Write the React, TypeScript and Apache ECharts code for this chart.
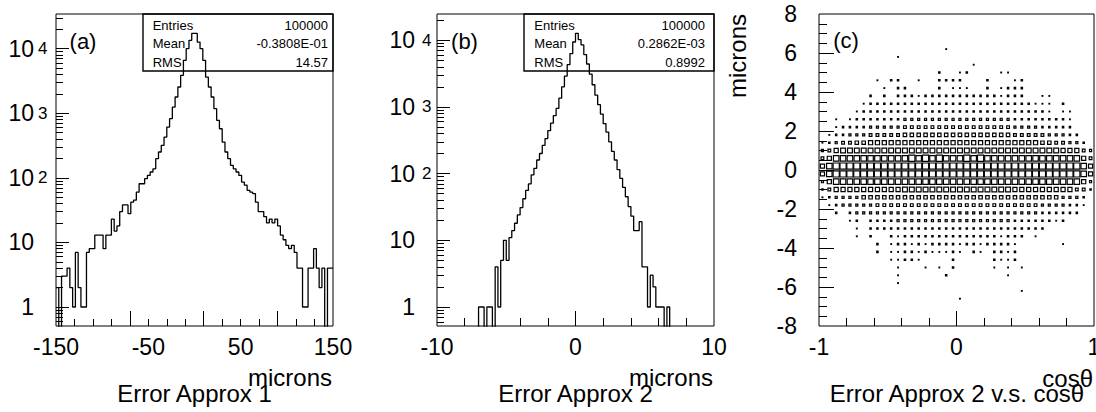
import React, { useEffect, useRef } from "react";
import * as echarts from "echarts";

// ---------- data ----------
// Panel (a): Error Approx 1, 100 bins from -150 to 150 (microns)
const binsA = [
  2, 0, 3, 3, 4, 2, 1, 7, 2, 1,
  1, 7, 8, 8, 13, 13, 13, 8, 13, 13,
  23, 15, 18, 30, 38, 38, 28, 42, 45, 60,
  81, 81, 97, 109, 123, 138, 198, 251, 318, 428,
  611, 822, 1247, 1782, 2547, 3860, 6590, 9970, 13440, 17200,
  17200, 12650, 9970, 6590, 3630, 2547, 1782, 1175, 776, 575,
  358, 251, 198, 156, 138, 123, 109, 86, 77, 64,
  60, 57, 42, 30, 30, 25, 20, 23, 20, 23,
  18, 13, 11, 9, 8, 9, 7, 4, 4, 1,
  1, 4, 4, 8, 4, 2, 4, 0, 4, 4,
];
// Panel (b): Error Approx 2, 100 bins from -10 to 10 (microns)
const binsB = [
  0, 0, 0, 0, 0, 0, 0, 0, 0, 0,
  0, 0, 0, 0, 0, 1, 1, 0, 1, 1,
  0, 4, 1, 5, 10, 5, 11, 14, 18, 24,
  31, 42, 56, 70, 96, 120, 160, 200, 265, 335,
  440, 570, 740, 950, 1350, 2000, 2900, 4300, 6300, 9400,
  12700, 10200, 8500, 6100, 4400, 3100, 2150, 1500, 1080, 780,
  560, 420, 300, 215, 160, 115, 85, 62, 45, 32,
  23, 14, 14, 19, 4, 4, 1, 3, 2, 1,
  1, 1, 0, 1, 0, 0, 0, 0, 0, 0,
  0, 0, 0, 0, 0, 0, 0, 0, 0, 0,
];
// Panel (c): box sizes (tenths of a cell) of the 40 x 40 2-D histogram,
// cos(theta) from -1 to 1 across, microns from 8 (top row) down to -8.
const cellRows = [
  "..........|..........|..........|..........",
  "..........|..........|..........|..........",
  "..........|..........|..........|..........",
  "..........|..........|..........|..........",
  "..........|........1.|..........|..........",
  "..........|.1........|..........|..........",
  "..........|..........|..1.......|..........",
  "..........|.......2..|12....11..|..........",
  "........1.|22..1..222|2...2...12|..........",
  ".........1|.22....2.1|11..2.1222|..........",
  ".......2.2|.222122222|2222221222|..11......",
  "......1222|2222222222|2222222222|2111.2....",
  ".....12222|2222222222|2222222222|2221.11...",
  "..1.122222|2233333333|3333333322|2222221...",
  "..12222333|3344444444|4444444433|3322222...",
  ".122333444|4455555555|5555555544|44433322..",
  "1234455666|6666666666|6666666666|665544332.",
  "3467777777|7777777777|7777777777|7777766643",
  "4688888888|8889898988|8989888888|8888888864",
  "6899999999|9999999999|9999999999|9999999986",
  "6899999999|9999999999|9999999999|9999999986",
  "3688888888|8888888888|8888888888|8888888863",
  "2466666666|6677777777|7777777766|6666666442",
  "1233335555|5555555555|5555555555|555553332.",
  ".123333344|4444444444|4444444444|443333221.",
  "..2.233333|3333333333|3333333333|33222222..",
  "....12.222|2333333333|3333333322|222212....",
  ".....1.222|2222222222|2222222222|222.......",
  ".....1.2..|2122222222|2222221222|.1........",
  "........2.|1221212222|122122221.|.....1....",
  "........2.|1122121112|1.21.2212.|..........",
  "..........|11221....2|.....2112.|..........",
  "..........|.1...1.1.2|.....1.1.1|..........",
  "..........|.1......2.|.......1..|..........",
  "..........|.1........|..........|..........",
  "..........|..........|.........1|..........",
  "..........|..........|1.........|..........",
  "..........|..........|..........|..........",
  "..........|..........|..........|..........",
  "..........|..........|..........|..........",
];

const statNames = ["Entries", "Mean", "RMS"];
const statValuesA = ["100000", "-0.3808E-01", "14.57"];
const statValuesB = ["100000", "0.2862E-03", "0.8992"];

const xLabelsA = [-150, -50, 50, 150];
const xTicksA = [-130, -110, -90, -70, -50, -30, -10, 10, 30, 50, 70, 90, 110, 130];
const xLongTicksA = [-70, 10, 90];
const xLabelsB = [-10, 0, 10];
const xTicksB = [-8, -6, -4, -2, 2, 4, 6, 8];
const xLongTicksB = [0];
const xLabelsC = [-1, 0, 1];
const xTicksC = [-0.8, -0.6, -0.4, -0.2, 0.2, 0.4, 0.6, 0.8];
const xLongTicksC = [0];
const yLabelsC = [-8, -6, -4, -2, 0, 2, 4, 6, 8];
const yLongTicksC = [-6, -4, -2, 0, 2, 4, 6];
const yShortTicksC = [-7.5, -7, -6.5, -5.5, -5, -4.5, -3.5, -3, -2.5, -1.5, -1, -0.5,
  0.5, 1, 1.5, 2.5, 3, 3.5, 4.5, 5, 5.5, 6.5, 7, 7.5];
const decades = [0, 1, 2, 3, 4];
const exponents = [2, 3, 4];
const minorMultipliers = [2, 3, 4, 5, 6, 7, 8, 9];

// ---------- helpers ----------
const FONT = '"Liberation Sans", Arial, Helvetica, sans-serif';
const LABEL_SIZE = 23;
const TITLE_SIZE = 24;

const logv = (v: number) => (v > 0 ? Math.log10(v) : -5);

function histData(bins: number[], min: number, width: number) {
  const d: number[][] = bins.map((v, i) => [min + i * width, logv(v)]);
  d.push([min + bins.length * width, logv(bins[bins.length - 1])]);
  return d;
}

function minorLogTicks(lo: number, hi: number) {
  const out: number[] = [];
  for (let e = -1; e <= 5; e++) {
    for (const m of minorMultipliers) {
      const l = e + Math.log10(m);
      if (l > lo && l < hi) out.push(l);
    }
  }
  return out;
}

function cellData() {
  const out: number[][] = [];
  const dx = 2 / 40;
  const dy = 16 / 40;
  cellRows.forEach((row, r) => {
    const s = row.replace(/\|/g, "");
    const j = cellRows.length - 1 - r;
    for (let i = 0; i < s.length; i++) {
      const ch = s[i];
      if (ch === ".") continue;
      out.push([-1 + (i + 0.5) * dx, -8 + (j + 0.5) * dy, Number(ch)]);
    }
  });
  return out;
}

function tickAxis(
  dim: "x" | "y",
  gridIndex: number,
  min: number,
  max: number,
  ticks: number[],
  len: number,
  label?: any
) {
  return {
    type: "value",
    gridIndex,
    min,
    max,
    position: dim === "x" ? "bottom" : "left",
    offset: 0,
    axisLine: { show: false, onZero: false },
    splitLine: { show: false },
    axisTick: {
      show: true,
      inside: true,
      length: len,
      customValues: ticks,
      lineStyle: { color: "#000", width: 1 },
    },
    axisLabel: label
      ? { show: true, color: "#000", fontFamily: FONT, fontSize: LABEL_SIZE, ...label }
      : { show: false },
  };
}

function text(x: number, y: number, t: string, size: number, align: string, extra: any = {}) {
  return {
    type: "text",
    x,
    y,
    z: 50,
    silent: true,
    ...extra,
    style: {
      text: t,
      fill: "#000",
      font: `${size}px ${FONT}`,
      align,
      textAlign: align,
      verticalAlign: "middle",
      textVerticalAlign: "middle",
    },
  };
}

function statsBox(x: number, labelX: number, valueX: number, values: string[]) {
  const els: any[] = [
    {
      type: "rect",
      z: 40,
      silent: true,
      shape: { x, y: 14, width: 190, height: 57 },
      style: { fill: "transparent", stroke: "#000", lineWidth: 1.4 },
    },
  ];
  const ys = [25, 43.5, 62];
  statNames.forEach((n, k) => {
    els.push(text(labelX, ys[k], n, 13, "left"));
    els.push(text(valueX, ys[k], values[k], 13, "right"));
  });
  return els;
}

const A_MIN = -0.294, A_MAX = 4.536;
const B_MIN = -0.285, B_MAX = 4.393;

function buildOption() {
  const gridBase = {
    show: true,
    borderColor: "#000",
    borderWidth: 1,
    backgroundColor: "transparent",
    top: 14,
    height: 312,
    containLabel: false,
    outerBoundsMode: "none",
  };
  const numFmt = (v: number) => String(v);
  const supLabel = (margin: number) => ({
    customValues: exponents,
    align: "left",
    margin,
    fontSize: 17,
    padding: [0, 0, 17, 0],
    formatter: (v: number) => String(Math.round(v)),
  });
  return {
    animation: false,
    backgroundColor: "#fff",
    grid: [
      { ...gridBase, left: 56, width: 277 },
      { ...gridBase, left: 437, width: 277 },
      { ...gridBase, left: 819, width: 275 },
    ],
    xAxis: [
      tickAxis("x", 0, -150, 150, xTicksA, 7, { customValues: xLabelsA, margin: 9, formatter: numFmt }),
      tickAxis("x", 0, -150, 150, xLongTicksA, 15),
      tickAxis("x", 1, -10, 10, xTicksB, 8, { customValues: xLabelsB, margin: 9, formatter: numFmt }),
      tickAxis("x", 1, -10, 10, xLongTicksB, 15),
      tickAxis("x", 2, -1, 1, xTicksC, 8, { customValues: xLabelsC, margin: 9, formatter: numFmt }),
      tickAxis("x", 2, -1, 1, xLongTicksC, 15),
    ],
    yAxis: [
      tickAxis("y", 0, A_MIN, A_MAX, decades, 13, {
        customValues: decades,
        align: "right",
        margin: 22,
        formatter: (v: number) => (v < 0.5 ? "1" : "10"),
      }),
      tickAxis("y", 0, A_MIN, A_MAX, minorLogTicks(A_MIN, A_MAX), 7, supLabel(18)),
      tickAxis("y", 1, B_MIN, B_MAX, decades, 13, {
        customValues: decades,
        align: "right",
        margin: 22,
        formatter: (v: number) => (v < 0.5 ? "1" : "10"),
      }),
      tickAxis("y", 1, B_MIN, B_MAX, minorLogTicks(B_MIN, B_MAX), 7, supLabel(15)),
      tickAxis("y", 2, -8, 8, yLongTicksC, 15, {
        customValues: yLabelsC,
        align: "right",
        margin: 22,
        formatter: numFmt,
      }),
      tickAxis("y", 2, -8, 8, yShortTicksC, 8),
    ],
    series: [
      {
        type: "line",
        xAxisIndex: 0,
        yAxisIndex: 0,
        step: "end",
        symbol: "none",
        showSymbol: false,
        clip: true,
        silent: true,
        lineStyle: { color: "#000", width: 1.3 },
        data: histData(binsA, -150, 3),
      },
      {
        type: "line",
        xAxisIndex: 2,
        yAxisIndex: 2,
        step: "end",
        symbol: "none",
        showSymbol: false,
        clip: true,
        silent: true,
        lineStyle: { color: "#000", width: 1.3 },
        data: histData(binsB, -10, 0.2),
      },
      {
        type: "custom",
        xAxisIndex: 4,
        yAxisIndex: 4,
        silent: true,
        data: cellData(),
        encode: { x: 0, y: 1 },
        renderItem: (_params: any, api: any) => {
          const c = api.coord([api.value(0), api.value(1)]);
          const s = api.size([2 / 40, 16 / 40]);
          const f = api.value(2) / 10;
          const w = s[0] * f;
          const h = w;
          return {
            type: "rect",
            shape: { x: c[0] - w / 2, y: c[1] - h / 2, width: w, height: h },
            style: { fill: "transparent", stroke: "#000", lineWidth: 1.2 },
          };
        },
      },
    ],
    graphic: [
      ...statsBox(143, 152.7, 328, statValuesA),
      ...statsBox(524, 534.3, 705, statValuesB),
      text(83, 41, "(a)", 22, "center"),
      text(464.5, 41, "(b)", 22, "center"),
      text(846, 40, "(c)", 22, "center"),
      text(332, 377, "microns", TITLE_SIZE, "right"),
      text(194.5, 393, "Error Approx 1", TITLE_SIZE, "center"),
      text(713, 377, "microns", TITLE_SIZE, "right"),
      text(575.5, 393, "Error Approx 2", TITLE_SIZE, "center"),
      text(1093, 378, "cosθ", TITLE_SIZE, "right"),
      text(957, 393.5, "Error Approx 2 v.s. cosθ", TITLE_SIZE, "center"),
      text(737, 14, "microns", TITLE_SIZE, "right", { rotation: Math.PI / 2 }),
    ],
  };
}

export default function App() {
  const ref = useRef<HTMLDivElement>(null);
  useEffect(() => {
    if (!ref.current) return;
    const chart = echarts.init(ref.current, undefined, { renderer: "svg" });
    chart.setOption(buildOption() as any);
    return () => {
      chart.dispose();
    };
  }, []);
  return (
    <div
      ref={ref}
      style={{ position: "absolute", left: 0, top: 0, width: 1096, height: 412, background: "#fff" }}
    />
  );
}
